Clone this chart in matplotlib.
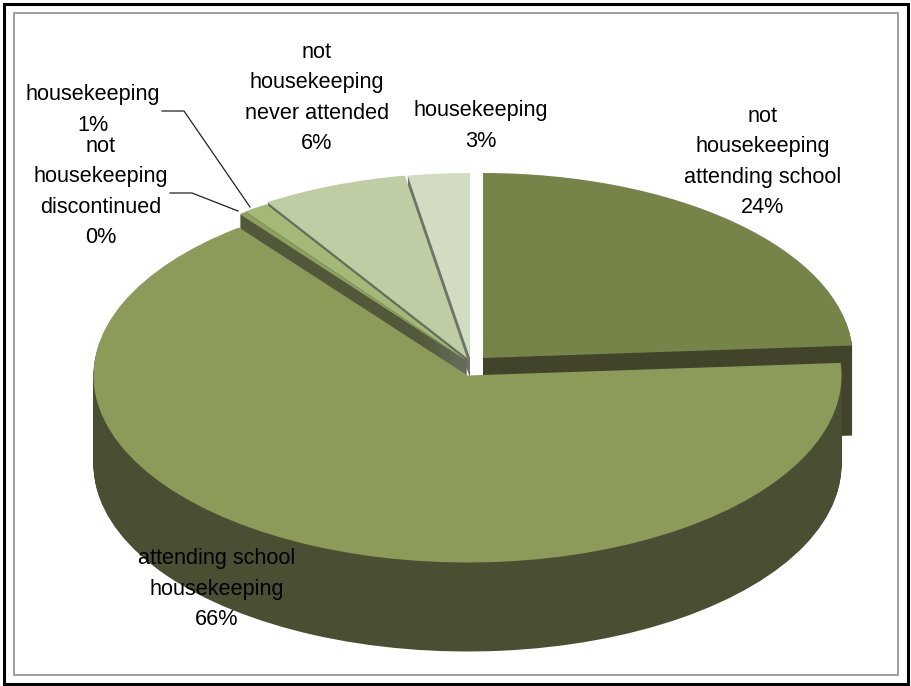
#!/usr/bin/env python3
"""
3D style pie chart of housekeeping / schooling shares
"""

import matplotlib
matplotlib.use('Agg')
import matplotlib.pyplot as plt
from matplotlib.patches import Rectangle

plt.rcParams['font.family'] = ['Liberation Sans', 'DejaVu Sans']

# Data
categories = ['not\nhousekeeping\nattending school',
              'attending school\nhousekeeping',
              'not\nhousekeeping\ndiscontinued',
              'housekeeping',
              'not\nhousekeeping\nnever attended',
              'housekeeping']
shares = [24, 65.8, 0.3, 1.1, 6.4, 2.7]

# Colours per slice
top_colors = ['#76844a', '#8c9b5a', '#8f9f5e', '#a4b977', '#bfcda4', '#d2dcc3']
side_colors = ['#41432b', '#4a4e33', '#52583a', '#6a7160', '#666c5c', '#6f7468']

# Geometry in picture pixels
W, H = 911, 686
Y_SCALE = 2.0  # squashes the circle into the tilted ellipse
centers = [(483, 358), (467.5, 375.5), (466, 360.5), (466, 360), (467, 358), (470, 358)]
radii = [370, 374, 370, 370, 370, 370]
depths = [90, 89, 20, 20, 20, 20]
draw_order = [5, 4, 3, 2, 0, 1]  # back to front

label_pos = [(763, 162), (217, 589), (101, 192), (93, 110), (317, 98), (481, 126)]


def py(y):
    """Picture row to data y."""
    return (H - y) * Y_SCALE


def draw_layer(ax, step):
    """One pie shifted down by step pixels, step 0 being the top face."""
    colors = top_colors if step == 0 else side_colors
    wedges, _ = ax.pie(shares, startangle=90, counterclock=False, colors=colors)
    for i, wedge in enumerate(wedges):
        if step > depths[i]:
            wedge.remove()
            continue
        cx, cy = centers[i]
        wedge.set_center((cx, py(cy + step)))
        wedge.set_radius(radii[i])
        wedge.set_facecolor(colors[i])
        wedge.set_edgecolor('none')
        wedge.set_linewidth(0)
        # later slices sit above earlier ones, deep layers below shallow ones
        wedge.set_zorder(draw_order.index(i) * 200 + 100 - step)


fig = plt.figure(figsize=(W / 100, H / 100), dpi=100)
ax = fig.add_axes([0, 0, 1, 1])

for step in range(max(depths), -1, -1):
    draw_layer(ax, step)

ax.set_aspect('auto')
ax.set_xlim(0, W)
ax.set_ylim(0, H * Y_SCALE)
ax.axis('off')

# Frames
ax.add_patch(Rectangle((3.5, py(683.5)), 904, 680 * Y_SCALE, fill=False,
                       edgecolor='black', linewidth=2.2, zorder=3000))
ax.add_patch(Rectangle((13.5, py(675)), 884.5, 662 * Y_SCALE, fill=False,
                       edgecolor='#909090', linewidth=1.2, zorder=3000))

# Leader lines
ax.plot([162, 184, 250], [py(111), py(111), py(207)], color='#222222', lw=0.9, zorder=3000)
ax.plot([170, 192, 238], [py(193), py(193), py(211)], color='#222222', lw=0.9, zorder=3000)

# Labels
for cat, share, (x, y) in zip(categories, shares, label_pos):
    ax.text(x, py(y), f'{cat}\n{share:.0f}%', ha='center', va='center',
            fontsize=15.6, color='black', linespacing=1.6, zorder=3100)

fig.savefig('out.png', dpi=100)
